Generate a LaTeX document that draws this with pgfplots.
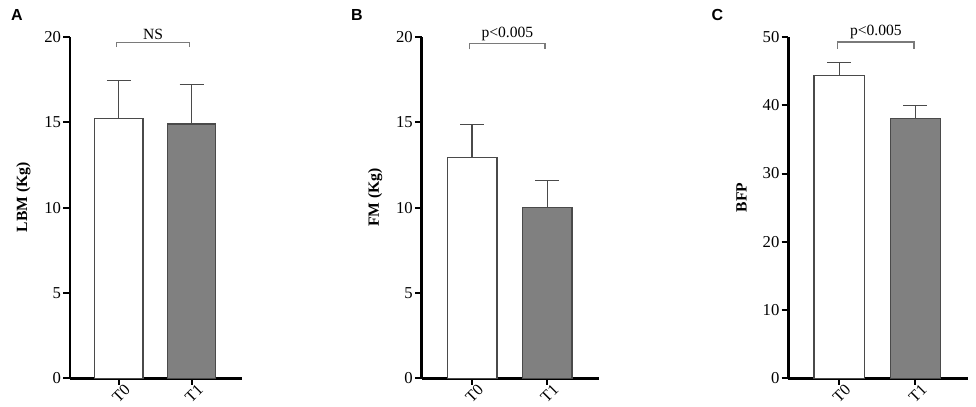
\documentclass[border=0pt]{standalone}
\usepackage{fontspec}
\setmainfont{Liberation Serif}
\newfontfamily\arialfont{Liberation Sans}
\usepackage{pgfplots}
\pgfplotsset{compat=1.18}
\definecolor{barline}{HTML}{4A4A4A}
\definecolor{barfill}{HTML}{808080}
\definecolor{brk}{HTML}{7A7A7A}
\newcommand{\fs}{\fontsize{11.7}{13}\selectfont}
\newcommand{\ft}{\fontsize{12.5}{14}\selectfont}
\newcommand{\fx}{\fontsize{12}{13}\selectfont}
\pgfplotsset{
  mybar/.style={
    scale only axis, height=256pt,
    ymin=0, xmin=-0.67, xmax=1.69,
    axis x line*=bottom, axis y line*=left,
    axis line style={line width=2pt,-},
    xtick={0,1}, xticklabels={T0,T1},
    tick style={line width=1.5pt, black},
    major tick length=5pt, tick align=outside,
    /pgf/number format/assume math mode=true,
    xticklabel style={rotate=45, anchor=east, font=\fx, inner sep=0.5pt, xshift=4.2pt, yshift=-5.6pt},
    yticklabel style={font=\ft, inner sep=1.5pt},
    every axis y label/.style={at={([xshift=-35pt]rel axis cs:0,0.53)}, rotate=90, anchor=center, font=\fs\bfseries},
    clip=false,
  },
  t0/.style={ybar, bar width=0.66, fill=white, draw=barline, line width=1pt,
    error bars/.cd, y dir=plus, y explicit,
    error bar style={line width=1pt, color=barline},
    error mark options={rotate=90, mark size=9pt, line width=1pt, barline}},
  t1/.style={ybar, bar width=0.66, fill=barfill, draw=barline, line width=1pt,
    error bars/.cd, y dir=plus, y explicit,
    error bar style={line width=1pt, color=barline},
    error mark options={rotate=90, mark size=9pt, line width=1pt, barline}},
}
\begin{document}
\begin{tikzpicture}
\useasboundingbox (0,0) rectangle (732pt,305.25pt);
% Panel A
\begin{axis}[mybar, at={(52.5pt,21.5pt)}, anchor=south west, width=129pt,
  ymax=20, ytick={0,5,10,15,20}, ylabel={LBM (Kg)}]
\addplot[t0] coordinates {(0,15.23) +- (0,2.21)};
\addplot[t1] coordinates {(1,14.90) +- (0,2.30)};
\draw[brk, line width=0.9pt] (axis cs:-0.03,19.4) -- (axis cs:-0.03,19.69) -- (axis cs:0.97,19.69) -- (axis cs:0.97,19.4);
\node[font=\fs, anchor=south, inner sep=1pt] at (axis cs:0.47,19.75) {NS};
\end{axis}
% Panel B
\begin{axis}[mybar, at={(316.3pt,21.5pt)}, anchor=south west, width=133pt,
  ymax=20, ytick={0,5,10,15,20}, ylabel={FM (Kg)}]
\addplot[t0] coordinates {(0,12.92) +- (0,1.95)};
\addplot[t1] coordinates {(1,10.01) +- (0,1.60)};
\draw[brk, line width=0.9pt] (axis cs:-0.03,19.28) -- (axis cs:-0.03,19.6) -- (axis cs:0.97,19.6) -- (axis cs:0.97,19.28);
\node[font=\fs, anchor=south, inner sep=1pt] at (axis cs:0.47,19.7) {p<0.005};
\end{axis}
% Panel C
\begin{axis}[mybar, at={(591.2pt,21.5pt)}, anchor=south west, width=134.8pt,
  ymax=50, ytick={0,10,20,30,40,50}, ylabel={BFP}]
\addplot[t0] coordinates {(0,44.4) +- (0,1.9)};
\addplot[t1] coordinates {(1,38.1) +- (0,1.9)};
\draw[brk, line width=0.9pt] (axis cs:-0.02,48.3) -- (axis cs:-0.02,49.27) -- (axis cs:0.98,49.27) -- (axis cs:0.98,48.3);
\node[font=\fs, anchor=south, inner sep=1pt] at (axis cs:0.48,49.5) {p<0.005};
\end{axis}
\node[font=\arialfont\bfseries\fontsize{12}{13}\selectfont] at (12.75pt,294pt) {A};
\node[font=\arialfont\bfseries\fontsize{12}{13}\selectfont] at (267.75pt,294pt) {B};
\node[font=\arialfont\bfseries\fontsize{12}{13}\selectfont] at (538pt,294pt) {C};
\end{tikzpicture}
\end{document}
